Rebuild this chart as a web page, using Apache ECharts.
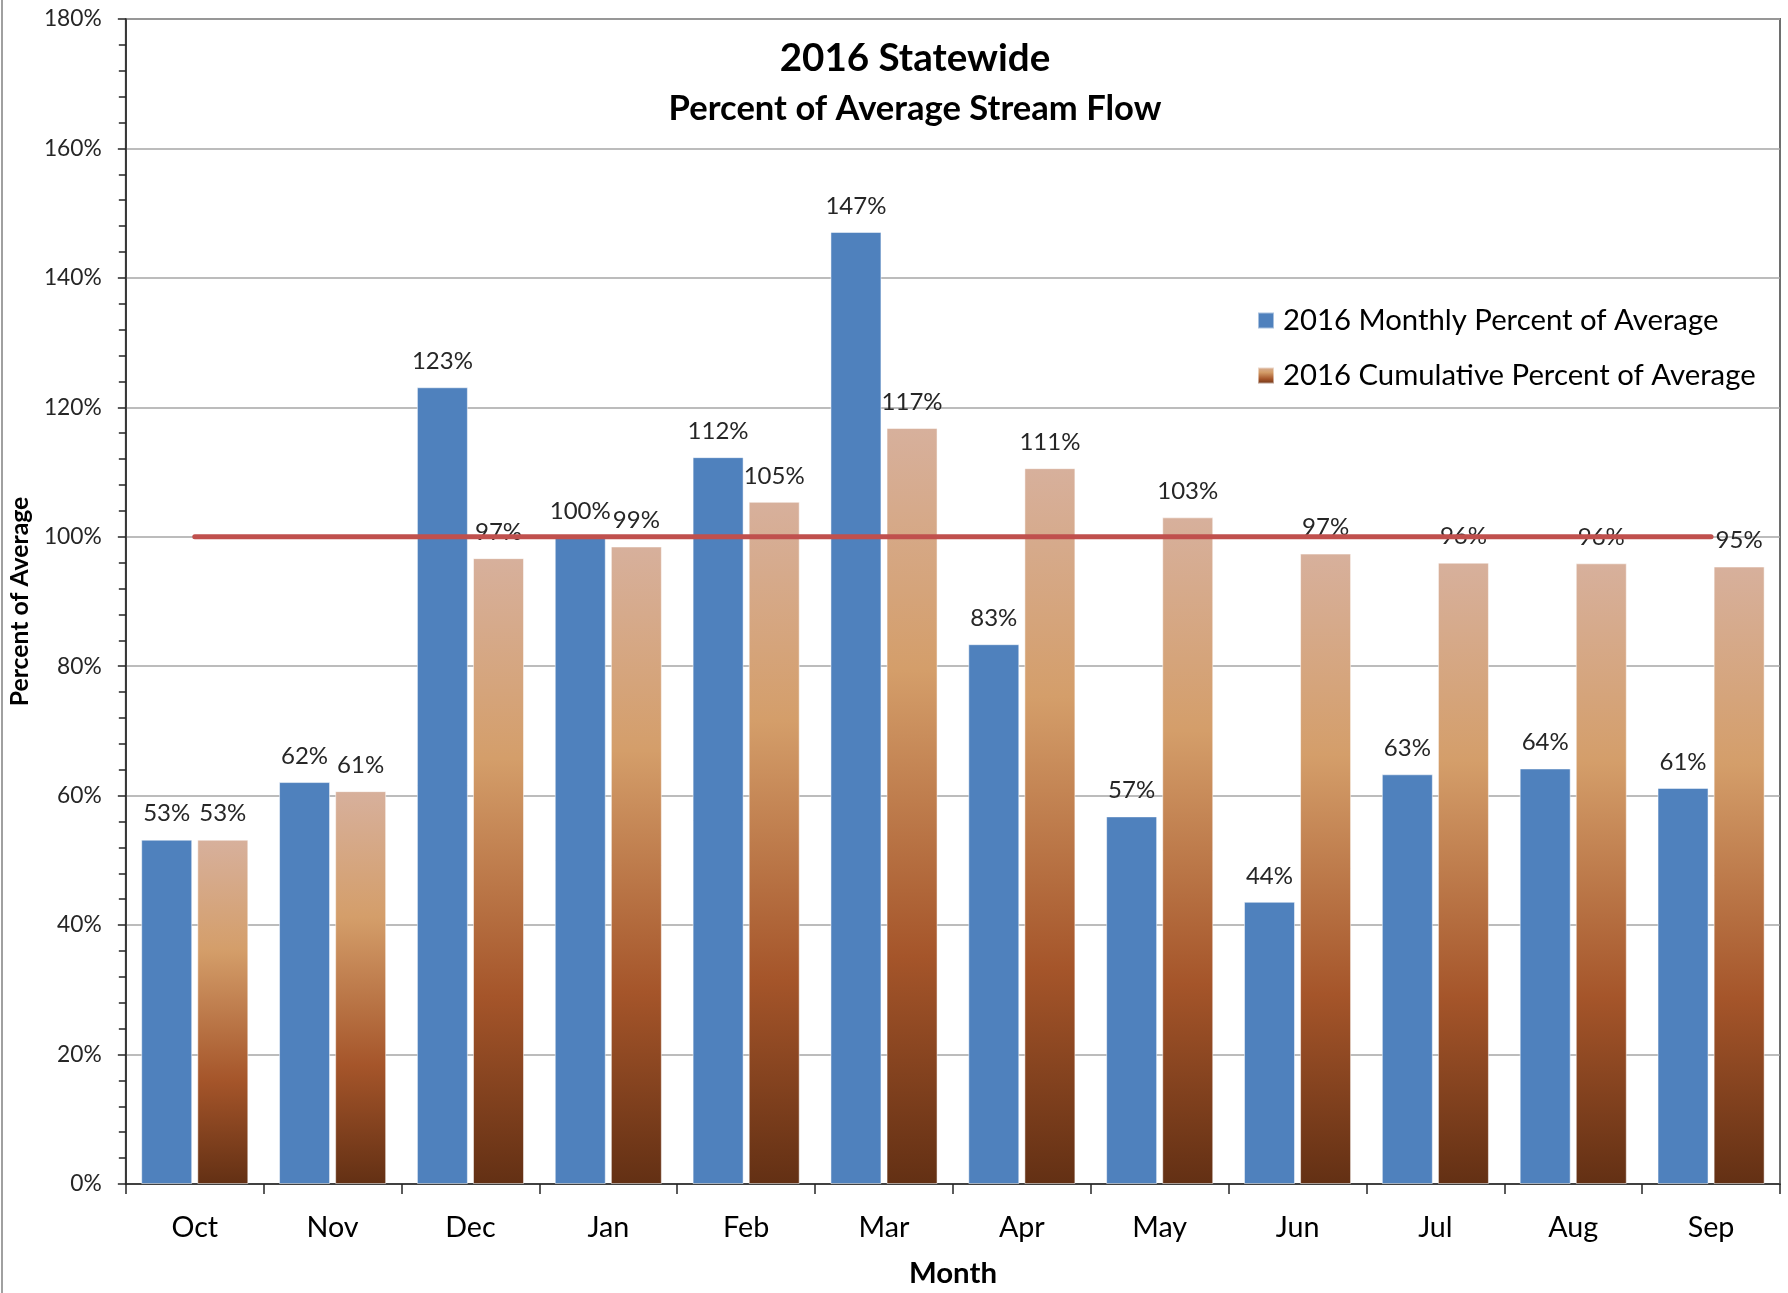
<!DOCTYPE html>
<html>
<head>
<meta charset="utf-8">
<script src="https://cdn.jsdelivr.net/npm/echarts@6/dist/echarts.min.js"></script>
<style>
html,body{margin:0;padding:0;background:#fff;}
#c{width:1788px;height:1293px;}
</style>
</head>
<body>
<div id="c"></div>
<script>
// ---- data ----
const months = ['Oct','Nov','Dec','Jan','Feb','Mar','Apr','May','Jun','Jul','Aug','Sep'];
const monthlyPct = [53.2, 62.1, 123.1, 99.9, 112.3, 147.1, 83.4, 56.8, 43.6, 63.3, 64.2, 61.2];
const cumulativePct = [53.2, 60.7, 96.7, 98.5, 105.4, 116.8, 110.6, 103.0, 97.4, 96.0, 95.9, 95.4];
const averageLine = [100, 100, 100, 100, 100, 100, 100, 100, 100, 100, 100, 100];
const yTicks = [0, 20, 40, 60, 80, 100, 120, 140, 160, 180];
const seriesNames = ['2016 Monthly Percent of Average', '2016 Cumulative Percent of Average'];

// ---- font fitting helper (matches measured text widths) ----
const FAMILY = 'Lato, "Open Sans", sans-serif';
const mctx = document.createElement('canvas').getContext('2d');
function fit(text, weight, target) {
  mctx.font = weight + ' 100px ' + FAMILY;
  return Math.round(100 * target / mctx.measureText(text).width * 10) / 10;
}
const fsTitle = fit('2016 Statewide', 'bold', 271);
const fsSub = fit('Percent of Average Stream Flow', 'bold', 493);
const fsYName = fit('Percent of Average', 'bold', 210);
const fsXName = fit('Month', 'bold', 88);
const fsTick = fit('180%', 'normal', 58);
const fsMonth = fit('Mar', 'normal', 51);
const fsData = fit('53%', 'normal', 47);
const fsLegend = fit(seriesNames[0], 'normal', 436);

const brownGrad = new echarts.graphic.LinearGradient(0, 0, 0, 1, [
  {offset: 0, color: '#D7B09C'},
  {offset: 0.32, color: '#D49E6A'},
  {offset: 0.70, color: '#A5552A'},
  {offset: 1, color: '#633014'}
]);

const chart = echarts.init(document.getElementById('c'), null, {renderer: 'canvas'});
const labelStyle = {
  show: true, position: 'top', distance: 14,
  fontFamily: FAMILY, fontSize: fsData, color: '#262626',
  formatter: p => Math.round(p.value) + '%'
};

chart.setOption({
  animation: false,
  backgroundColor: '#fff',
  textStyle: {fontFamily: FAMILY},
  title: [
    {text: '2016 Statewide', left: 910, top: 34, textAlign: 'center',
     textStyle: {fontFamily: FAMILY, fontWeight: 'bold', fontSize: fsTitle, color: '#000'}},
    {text: 'Percent of Average Stream Flow', left: 910, top: 86, textAlign: 'center',
     textStyle: {fontFamily: FAMILY, fontWeight: 'bold', fontSize: fsSub, color: '#000'}}
  ],
  legend: {
    orient: 'vertical', left: 1257, top: 306, padding: 0,
    itemWidth: 16, itemHeight: 16, itemGap: 26, icon: 'rect',
    data: seriesNames,
    textStyle: {fontFamily: FAMILY, fontSize: fsLegend, color: '#000', padding: [0, 0, 0, 4]}
  },
  grid: {
    left: 124, right: 8, top: 19, bottom: 102, containLabel: false,
    show: true, borderColor: '#6e6e6e', borderWidth: 2, backgroundColor: 'transparent'
  },
  xAxis: {
    type: 'category', data: months,
    name: 'Month', nameLocation: 'middle', nameGap: 75,
    nameTextStyle: {fontFamily: FAMILY, fontWeight: 'bold', fontSize: fsXName, color: '#000'},
    axisLine: {lineStyle: {color: '#262626', width: 1.5}},
    axisTick: {show: true, interval: 0, alignWithLabel: false, length: 10, lineStyle: {color: '#262626', width: 1.5}},
    axisLabel: {fontFamily: FAMILY, fontSize: fsMonth, color: '#000', margin: 29, interval: 0},
    splitLine: {show: false}
  },
  yAxis: {
    type: 'value', min: yTicks[0], max: yTicks[yTicks.length - 1], interval: yTicks[1] - yTicks[0],
    name: 'Percent of Average', nameLocation: 'middle', nameGap: 90,
    nameTextStyle: {fontFamily: FAMILY, fontWeight: 'bold', fontSize: fsYName, color: '#000'},
    axisLine: {show: true, lineStyle: {color: '#262626', width: 1.5}},
    axisTick: {show: true, length: 8, lineStyle: {color: '#262626', width: 1.5}},
    minorTick: {show: true, splitNumber: 5, length: 7, lineStyle: {color: '#262626', width: 1.5}},
    axisLabel: {fontFamily: FAMILY, fontSize: fsTick, color: '#262626', margin: 24, formatter: '{value}%'},
    splitLine: {show: true, lineStyle: {color: '#a6a6a6', width: 1.5}}
  },
  graphic: [
    {type: 'line', shape: {x1: 2, y1: 0, x2: 2, y2: 1293}, style: {stroke: '#a0a0a0', lineWidth: 2}, silent: true}
  ],
  series: [
    {
      name: seriesNames[0], type: 'bar', data: monthlyPct,
      barWidth: 51, barGap: '10%',
      itemStyle: {color: '#4F81BD', borderColor: 'rgba(255,255,255,0.5)', borderWidth: 1},
      label: labelStyle, z: 2
    },
    {
      name: seriesNames[1], type: 'bar', data: cumulativePct,
      barWidth: 51, barGap: '10%',
      itemStyle: {color: brownGrad, borderColor: 'rgba(255,255,255,0.5)', borderWidth: 1},
      label: labelStyle, z: 2
    },
    {
      name: 'Average', type: 'line', data: averageLine,
      symbol: 'none', silent: true, z: 3,
      lineStyle: {color: '#C0504D', width: 5, cap: 'round'}
    }
  ]
});
</script>
</body>
</html>
